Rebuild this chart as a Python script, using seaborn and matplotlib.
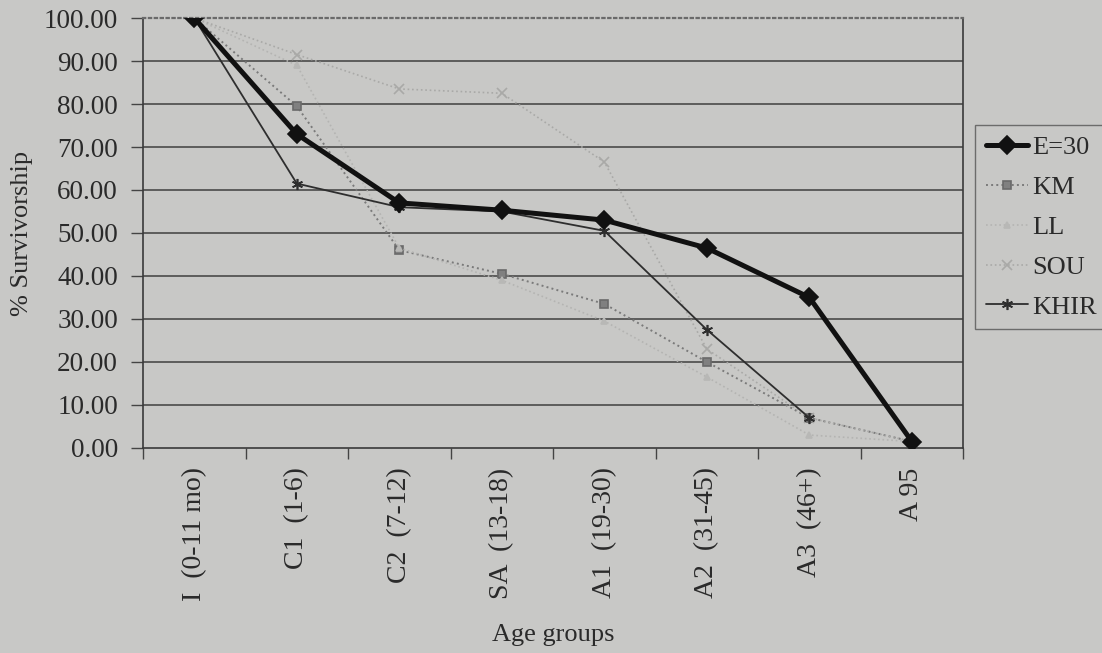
import numpy as np
import pandas as pd
import matplotlib
matplotlib.use("Agg")
import matplotlib.pyplot as plt
import seaborn as sns
from matplotlib.ticker import FixedLocator, FormatStrFormatter

categories = ["I  (0-11 mo)", "C1  (1-6)", "C2  (7-12)", "SA  (13-18)",
              "A1  (19-30)", "A2  (31-45)", "A3  (46+)", "A 95"]
e30 = [100, 73, 57, 55.3, 53, 46.5, 35, 1.5]
km = [100, 79.5, 46, 40.5, 33.5, 20, 7, 1.5]
ll = [100, 89, 46.5, 39, 29.5, 16.5, 3, 1.5]
sou = [100, 91.5, 83.5, 82.5, 66.5, 23, 7, 1.5]
khir = [100, 61.5, 56, 55, 50.5, 27.5, 7, np.nan]
series_names = ["E=30", "KM", "LL", "SOU", "KHIR"]
y_ticks = [0, 10, 20, 30, 40, 50, 60, 70, 80, 90, 100]

sns.set_theme(style="white")
plt.rcParams["font.family"] = ["Liberation Serif", "DejaVu Serif"]

bg = "#c8c8c6"
txt = "#2a2a2a"
fig = plt.figure(figsize=(11.02, 6.53), dpi=100, facecolor=bg)
ax = fig.add_axes([0.1298, 0.314, 0.874 - 0.1298, 0.9724 - 0.314])
ax.set_facecolor(bg)

xpos = np.arange(len(categories))
rows = []
for name, vals in zip(series_names, [e30, km, ll, sou, khir]):
    for i, v in enumerate(vals):
        rows.append({"x": xpos[i], "y": v, "series": name})
df = pd.DataFrame(rows)

styles = {
    "E=30": dict(color="#111111", lw=3.6, marker="D", ms=9, ls="-", mfc="#111111", mec="#111111"),
    "KM": dict(color="#7a7a7a", lw=1.4, marker="s", ms=6, ls=":", mfc="#808080", mec="#6a6a6a"),
    "LL": dict(color="#b4b4b2", lw=1.2, marker="^", ms=5, ls=":", mfc="#b8b8b6", mec="#b8b8b6"),
    "SOU": dict(color="#a9a9a7", lw=1.2, marker="x", ms=7, ls=":", mfc="#a9a9a7", mec="#a9a9a7"),
    "KHIR": dict(color="#2e2e2e", lw=1.3, marker=(6, 2, 0), ms=8, ls="-", mfc="#2e2e2e", mec="#2e2e2e"),
}

for name in series_names:
    st = styles[name]
    sub = df[df["series"] == name].dropna()
    sns.lineplot(data=sub, x="x", y="y", ax=ax, sort=False, label=name,
                 color=st["color"], linewidth=st["lw"], linestyle=st["ls"],
                 marker=st["marker"], markersize=st["ms"],
                 markerfacecolor=st["mfc"], markeredgecolor=st["mec"],
                 markeredgewidth=1.2, zorder=5 if name == "E=30" else 3)

ax.set_xlim(-0.5, len(categories) - 0.5)
ax.set_ylim(0, 100)
ax.set_yticks(y_ticks)
ax.yaxis.set_major_formatter(FormatStrFormatter("%.2f"))
ax.set_xticks(xpos)
ax.set_xticklabels(categories, rotation=90, fontsize=20, color=txt)
ax.xaxis.set_minor_locator(FixedLocator(np.arange(-0.5, len(categories), 1.0)))
ax.tick_params(axis="x", which="major", length=0, pad=14)
ax.tick_params(axis="x", which="minor", length=8, width=1, color="#444", direction="out", bottom=True)
ax.tick_params(axis="y", length=9, width=1, color="#444", direction="out", left=True,
               labelsize=19.5, labelcolor=txt, pad=9)

for yv in y_ticks[1:-1]:
    ax.axhline(yv, color="#4a4a4a", lw=1.2, zorder=1)

for s in ["left", "bottom", "right"]:
    ax.spines[s].set_visible(True)
    ax.spines[s].set_color("#3a3a3a")
    ax.spines[s].set_linewidth(1.2)
ax.spines["top"].set_visible(True)
ax.spines["top"].set_color("#6a6a6a")
ax.spines["top"].set_linestyle(":")
ax.spines["top"].set_linewidth(1.6)

ax.set_xlabel("Age groups", fontsize=19, color=txt, labelpad=16)
ax.set_ylabel("% Survivorship", fontsize=19, color=txt, labelpad=8)

handles, labels = ax.get_legend_handles_labels()
ax.legend_.remove()
leg = fig.legend(handles, labels, loc="center left", bbox_to_anchor=(0.8848, 0.652),
                 fontsize=19, frameon=True, fancybox=False, handlelength=1.6,
                 labelspacing=0.62, borderpad=0.4, handletextpad=0.15, borderaxespad=0)
leg.get_frame().set_facecolor(bg)
leg.get_frame().set_edgecolor("#555")
leg.get_frame().set_linewidth(1.0)
for t in leg.get_texts():
    t.set_color(txt)

fig.savefig("out.png", dpi=100, facecolor=bg)
